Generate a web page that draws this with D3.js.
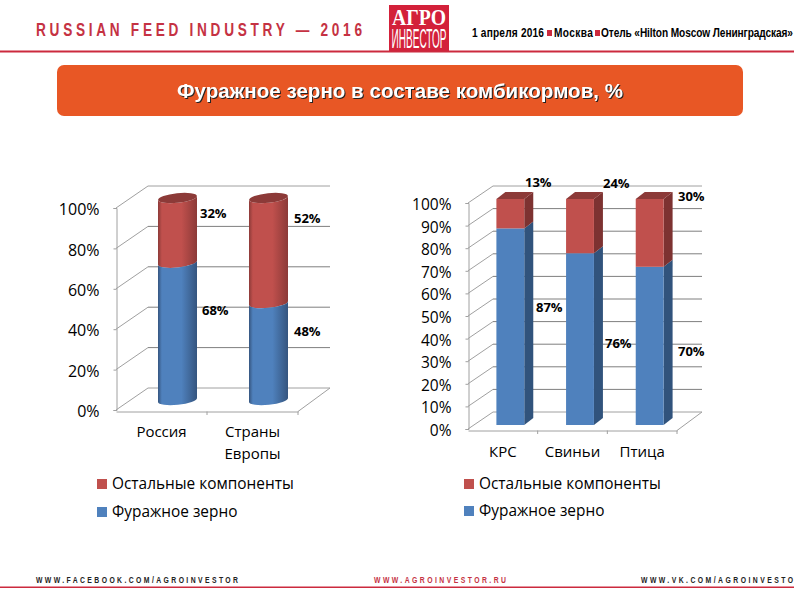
<!DOCTYPE html>
<html>
<head>
<meta charset="utf-8">
<script src="https://cdn.jsdelivr.net/npm/d3@7"></script>
<style>
  body { margin: 0; background: #fff; }
  svg { display: block; }
  text { font-family: "Open Sans", sans-serif; fill: #000; }
  .narrow { font-family: "Liberation Sans", sans-serif; font-weight: bold; }
  .val { font-size: 13px; font-weight: bold; }
  .leg { font-size: 15.4px; }
</style>
</head>
<body>
<svg id="chart" width="794" height="595"></svg>
<script>
// data
let leftCategories = ["Россия", "Страны Европы"];
let leftGrain = [68, 48];
let leftOther = [32, 52];
let leftTicks = [0, 20, 40, 60, 80, 100];

let rightCategories = ["КРС", "Свиньи", "Птица"];
let rightGrain = [87, 76, 70];
let rightOther = [13, 24, 30];
let rightTicks = [0, 10, 20, 30, 40, 50, 60, 70, 80, 90, 100];

let seriesNames = ["Остальные компоненты", "Фуражное зерно"];

const BLUE = "#4f81bd", RED = "#c0504d", RED_DARK = "#7d3231", BLUE_DARK = "#31537c";
const RED_LINE = "#cc2a3e";

let svg = d3.select("#chart");
let defs = svg.append("defs");

function cylGradient(id, edge, mid) {
    let g = defs.append("linearGradient").attr("id", id);
    g.append("stop").attr("offset", "0%").attr("stop-color", edge);
    g.append("stop").attr("offset", "10%").attr("stop-color", mid);
    g.append("stop").attr("offset", "60%").attr("stop-color", mid);
    g.append("stop").attr("offset", "100%").attr("stop-color", edge);
}
cylGradient("cylBlue", "#35557f", BLUE);
cylGradient("cylRed", "#8c3a38", RED);

// no condensed face is installed, so squeeze the glyphs horizontally
function condensed(str, x, y, width, size, sx, color) {
    return svg.append("text").attr("class", "narrow")
        .attr("transform", "translate(" + x + "," + y + ") scale(" + sx + ",1)")
        .attr("textLength", width / sx).attr("lengthAdjust", "spacing")
        .style("font-size", size + "px").style("fill", color).text(str);
}

//? Header
condensed("RUSSIAN FEED INDUSTRY — 2016", 36, 36, 326, 17.5, 0.78, "#c53243");
svg.append("rect").attr("x", 389).attr("y", 5).attr("width", 60).attr("height", 46).attr("fill", "#d3213a");
svg.append("text").attr("x", 419).attr("y", 25).attr("text-anchor", "middle")
    .attr("textLength", 54).attr("lengthAdjust", "spacingAndGlyphs")
    .style("font-family", "'Liberation Serif', serif").style("font-weight", "bold")
    .style("font-size", "24px").style("fill", "#fff").text("АГРО");
svg.append("text").attr("class", "narrow").attr("x", 419).attr("y", 48).attr("text-anchor", "middle")
    .attr("textLength", 55).attr("lengthAdjust", "spacingAndGlyphs")
    .style("font-size", "27px").style("font-weight", "normal").style("fill", "#fff").text("ИНВЕСТОР");

condensed("1 апреля 2016", 472, 37, 72, 13.5, 0.75, "#000");
svg.append("rect").attr("x", 547).attr("y", 30).attr("width", 5).attr("height", 6).attr("fill", RED_LINE);
condensed("Москва", 554, 37, 39, 13.5, 0.75, "#000");
svg.append("rect").attr("x", 595).attr("y", 30).attr("width", 5).attr("height", 6).attr("fill", RED_LINE);
condensed("Отель «Hilton Moscow Ленинградская»", 601, 37, 192, 13.5, 0.75, "#000");
svg.append("rect").attr("x", 0).attr("y", 50.5).attr("width", 794).attr("height", 2).attr("fill", RED_LINE);

//? Title banner
svg.append("rect").attr("x", 57).attr("y", 65).attr("width", 686).attr("height", 51).attr("rx", 7)
    .attr("fill", "#e85725");
svg.append("text").attr("x", 400).attr("y", 98).attr("text-anchor", "middle")
    .attr("textLength", 446).attr("lengthAdjust", "spacingAndGlyphs")
    .style("font-family", "'Liberation Sans', sans-serif").style("font-weight", "bold")
    .style("font-size", "20.5px").style("fill", "#fff")
    .style("filter", "drop-shadow(1px 1px 0.5px #222)")
    .text("Фуражное зерно в составе комбикормов, %");

//? Footer
condensed("WWW.FACEBOOK.COM/AGROINVESTOR", 36, 583, 202, 9.5, 0.72, "#222");
condensed("WWW.AGROINVESTOR.RU", 374, 583, 132, 9.5, 0.72, "#c53243");
condensed("WWW.VK.COM/AGROINVESTO", 641, 583, 152, 9.5, 0.72, "#222");
svg.append("rect").attr("x", 0).attr("y", 586.5).attr("width", 794).attr("height", 1.5).attr("fill", RED_LINE);

//? Shared frame: walls, gridlines, floor, axes
function drawFrame(o) {
    let g = svg.append("g");
    let y = d3.scaleLinear().domain([0, 100]).range([o.y0, o.y1]);
    let x = d3.scaleBand().domain(o.categories).range([o.x0, o.x1])
        .paddingInner(o.pad).paddingOuter(o.pad / 2);

    g.selectAll(".side").data(o.ticks).enter().append("line")
        .attr("x1", o.x0).attr("x2", o.x0 + o.dx)
        .attr("y1", d => y(d)).attr("y2", d => y(d) - o.dy)
        .attr("stroke", "#a0a0a0");
    g.selectAll(".grid").data(o.ticks).enter().append("line")
        .attr("x1", o.x0 + o.dx).attr("x2", o.x1 + o.dx)
        .attr("y1", d => y(d) - o.dy).attr("y2", d => y(d) - o.dy)
        .attr("stroke", d => d === 0 || d === 100 ? "#a0a0a0" : "#7f7f7f");
    // floor diagonal on the right
    g.append("line").attr("x1", o.x1).attr("y1", y(0) + 1.5)
        .attr("x2", o.x1 + o.dx).attr("y2", y(0) - o.dy)
        .attr("stroke", "#a0a0a0");

    let yAxis = d3.axisLeft(y).tickValues(o.ticks).tickSize(3).tickPadding(o.tickPad)
        .tickFormat(d => d + "%");
    let ya = g.append("g").attr("transform", "translate(" + (o.x0 + 0.5) + ",0)").call(yAxis);
    ya.selectAll("path,line").attr("stroke", "#a0a0a0");
    ya.selectAll("text").attr("y", 1.5).style("font-size", o.tickFont + "px");

    let xAxis = d3.axisBottom(x).tickSize(0).tickPadding(o.catPad);
    let xa = g.append("g").attr("transform", "translate(0," + (y(0) + 1.5) + ")").call(xAxis);
    xa.select(".domain").attr("stroke", "#a0a0a0");
    xa.selectAll("text").style("font-size", "15px").each(function (d) {
        let words = d.split(" ");
        if (words.length < 2) return;
        let t = d3.select(this).text(null);
        words.forEach(function (w, i) {
            t.append("tspan").attr("x", 0).attr("dy", i ? "22px" : "0.71em").text(w);
        });
    });
    // category separators sit on the band edges
    g.selectAll(".sep").data(d3.range(1, o.categories.length + 1)).enter().append("line")
        .attr("x1", d => o.x0 + d * x.step()).attr("x2", d => o.x0 + d * x.step())
        .attr("y1", y(0) + 1.5).attr("y2", y(0) + 5)
        .attr("stroke", "#a0a0a0");
    return { x: x, y: y };
}

function drawLegend(xPos, ys) {
    seriesNames.forEach(function (name, i) {
        svg.append("rect").attr("x", xPos).attr("y", ys[i] - 5).attr("width", 10).attr("height", 10)
            .attr("fill", i === 0 ? RED : BLUE);
        svg.append("text").attr("class", "leg").attr("x", xPos + 15).attr("y", ys[i] + 5).text(name);
    });
}

function drawLabels(items) {
    svg.selectAll(null).data(items).enter().append("text").attr("class", "val")
        .attr("x", d => d[0]).attr("y", d => d[1]).text(d => d[2] + "%");
}

//? Left chart: cylinders
let lf = drawFrame({
    categories: leftCategories, ticks: leftTicks,
    x0: 116, x1: 298, y0: 410, y1: 208, dx: 32, dy: 22,
    pad: 0.57, tickPad: 14, tickFont: 16, catPad: 15
});
let cylDx = 16, cylDy = 10, rx = 19.5, ry = 4.8, tilt = -6;
let slope = rx * Math.sin(6 * Math.PI / 180);

function cylSegment(xc, yb, yt) {
    let l = xc - rx, r = xc + rx;
    return "M" + l + "," + (yb + slope)
        + "A" + rx + "," + ry + " " + tilt + " 0 0 " + r + "," + (yb - slope)
        + "L" + r + "," + (yt - slope)
        + "A" + rx + "," + ry + " " + tilt + " 0 1 " + l + "," + (yt + slope) + "Z";
}

leftCategories.forEach(function (c, i) {
    let xc = lf.x(c) + lf.x.bandwidth() / 2 + cylDx;
    let yv = v => lf.y(v) - cylDy;
    svg.append("path").attr("d", cylSegment(xc, yv(leftGrain[i]), yv(100))).attr("fill", "url(#cylRed)");
    svg.append("path").attr("d", cylSegment(xc, yv(0), yv(leftGrain[i]))).attr("fill", "url(#cylBlue)");
    svg.append("ellipse").attr("cx", xc).attr("cy", yv(100)).attr("rx", rx).attr("ry", ry)
        .attr("transform", "rotate(" + tilt + " " + xc + " " + yv(100) + ")")
        .attr("fill", "#8c3a38");
});

drawLabels([
    [200, 218, leftOther[0]], [202, 315, leftGrain[0]],
    [294, 223, leftOther[1]], [294, 336, leftGrain[1]]
]);
drawLegend(97, [484, 512]);

//? Right chart: 3D boxes
let rf = drawFrame({
    categories: rightCategories, ticks: rightTicks,
    x0: 468, x1: 677, y0: 429, y1: 203, dx: 25, dy: 17,
    pad: 0.6, tickPad: 14, tickFont: 15.5, catPad: 16
});
let boxDx = 7.5, boxDy = 4, depthX = 9, depthY = 7;

function drawBox(x, w, yb, yt, front, side) {
    svg.append("path")
        .attr("d", "M" + (x + w) + "," + yb + "L" + (x + w + depthX) + "," + (yb - depthY)
            + "L" + (x + w + depthX) + "," + (yt - depthY) + "L" + (x + w) + "," + yt + "Z")
        .attr("fill", side);
    svg.append("rect").attr("x", x).attr("y", yt).attr("width", w).attr("height", yb - yt).attr("fill", front);
}

rightCategories.forEach(function (c, i) {
    let x = rf.x(c) + boxDx, w = rf.x.bandwidth();
    let yv = v => rf.y(v) - boxDy;
    drawBox(x, w, yv(0), yv(rightGrain[i]), BLUE, BLUE_DARK);
    drawBox(x, w, yv(rightGrain[i]), yv(100), RED, RED_DARK);
    svg.append("path")
        .attr("d", "M" + x + "," + yv(100) + "L" + (x + depthX) + "," + (yv(100) - depthY)
            + "L" + (x + w + depthX) + "," + (yv(100) - depthY) + "L" + (x + w) + "," + yv(100) + "Z")
        .attr("fill", "#8c3a38");
});

drawLabels([
    [525, 187, rightOther[0]], [536, 312, rightGrain[0]],
    [603, 188, rightOther[1]], [605, 348, rightGrain[1]],
    [678, 201, rightOther[2]], [678, 356, rightGrain[2]]
]);
drawLegend(464, [484, 511]);
</script>
</body>
</html>
